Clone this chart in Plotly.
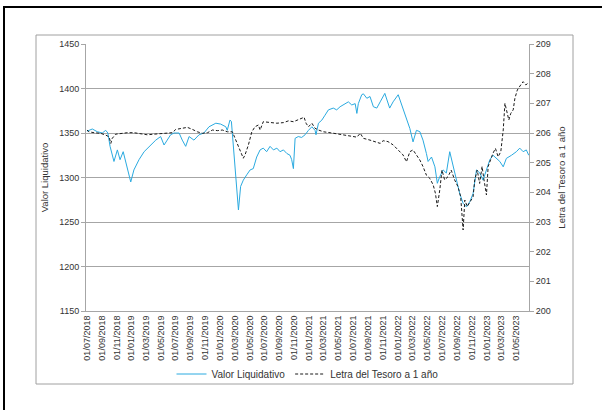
import plotly.graph_objects as go

# ---- data ----
vl_dates = ["2018-07-02","2018-07-24","2018-08-13","2018-09-03","2018-09-17","2018-09-26","2018-10-05",
    "2018-10-21","2018-11-04","2018-11-15","2018-11-28","2018-12-12","2018-12-22","2018-12-29","2019-01-11",
    "2019-02-01","2019-02-22","2019-03-21","2019-04-11","2019-05-01","2019-05-15","2019-05-28","2019-06-11",
    "2019-06-25","2019-07-16","2019-07-29","2019-08-12","2019-08-26","2019-09-15","2019-10-06","2019-10-26",
    "2019-11-16","2019-12-14","2020-01-03","2020-01-24","2020-01-30","2020-02-10","2020-02-16","2020-02-24",
    "2020-03-06","2020-03-16","2020-03-25","2020-04-05","2020-04-19","2020-05-03","2020-05-16","2020-05-30",
    "2020-06-13","2020-06-26","2020-07-10","2020-07-24","2020-08-07","2020-08-21","2020-09-03","2020-09-17",
    "2020-10-01","2020-10-14","2020-10-21","2020-10-28","2020-11-04","2020-11-17","2020-12-01","2020-12-15",
    "2020-12-29","2021-01-12","2021-01-25","2021-01-29","2021-02-08","2021-02-22","2021-03-07","2021-03-21",
    "2021-04-10","2021-04-24","2021-05-08","2021-05-29","2021-06-11","2021-06-25","2021-07-09","2021-07-16",
    "2021-07-22","2021-08-05","2021-08-12","2021-08-26","2021-09-08","2021-09-22","2021-10-06","2021-10-20",
    "2021-11-08","2021-11-28","2021-12-12","2022-01-02","2022-01-15","2022-02-05","2022-02-19","2022-03-04",
    "2022-03-18","2022-04-01","2022-04-14","2022-04-28","2022-05-05","2022-05-19","2022-06-02","2022-06-12",
    "2022-06-22","2022-07-06","2022-07-19","2022-08-02","2022-08-16","2022-08-29","2022-09-12","2022-09-26",
    "2022-10-10","2022-10-24","2022-11-06","2022-11-20","2022-12-04","2022-12-17","2022-12-31","2023-01-14",
    "2023-01-27","2023-02-10","2023-02-24","2023-03-10","2023-03-23","2023-04-13","2023-05-03","2023-05-17",
    "2023-05-31","2023-06-13","2023-06-23"]
vl_values = [1352,1354.5,1351.5,1350,1353,1350,1335,
    1318,1331,1320,1329,1312,1301,1295,1308.5,
    1320,1329,1336.5,1342,1346,1336.5,1342,1348,
    1350,1350,1342,1335,1346,1342,1348,1350,
    1357,1361,1360,1357,1353,1364.5,1363,1335,
    1297,1263.5,1290,1297,1303,1308.5,1310,1323,
    1331,1333,1329,1335,1331,1333,1329,1331,
    1327,1325,1320,1310,1344,1346,1345,1348,
    1353,1357,1353,1348,1361,1364.5,1370,1376,
    1378,1376,1379.5,1383,1385,1381.5,1383,1372,
    1383,1393,1394,1389,1391,1379.5,1378,1385,
    1394.5,1378,1385,1393,1383,1368,1355,1340,
    1353,1351.5,1342,1327,1318,1323,1312,1293.5,
    1301,1308.5,1305,1329,1312,1297,1282,1271,
    1267,1273,1282,1308.5,1305,1297,1308.5,1320,
    1325,1321.5,1318,1312,1321.5,1325,1329,1333,
    1329,1331,1325]

lt_dates = ["2018-07-02","2018-07-10","2018-07-31","2018-08-27","2018-09-17","2018-10-01","2018-10-08",
    "2018-10-14","2018-10-28","2018-11-18","2018-12-16","2019-01-11","2019-02-08","2019-03-07","2019-04-03",
    "2019-05-01","2019-05-28","2019-06-18","2019-07-02","2019-07-22","2019-08-19","2019-09-09","2019-09-29",
    "2019-10-20","2019-11-10","2019-11-30","2019-12-21","2020-01-10","2020-01-30","2020-02-20","2020-03-08",
    "2020-03-22","2020-04-05","2020-04-12","2020-04-26","2020-05-10","2020-05-23","2020-06-06","2020-06-13",
    "2020-06-26","2020-07-24","2020-08-21","2020-09-17","2020-10-08","2020-10-28","2020-11-17","2020-12-01",
    "2020-12-11","2020-12-19","2020-12-29","2021-01-12","2021-01-25","2021-02-08","2021-03-01","2021-03-28",
    "2021-04-24","2021-05-22","2021-06-18","2021-07-16","2021-07-30","2021-08-12","2021-09-08","2021-10-06",
    "2021-10-20","2021-11-01","2021-11-21","2021-12-12","2022-01-02","2022-01-22","2022-02-05","2022-02-19",
    "2022-03-04","2022-03-18","2022-04-01","2022-04-14","2022-04-28","2022-05-12","2022-05-26","2022-06-04",
    "2022-06-12","2022-06-22","2022-07-01","2022-07-12","2022-07-26","2022-08-08","2022-08-22","2022-09-05",
    "2022-09-16","2022-09-26","2022-10-03","2022-10-13","2022-10-27","2022-11-06","2022-11-13","2022-11-23",
    "2022-12-03","2022-12-13","2022-12-21","2022-12-31","2023-01-07","2023-01-18","2023-01-27","2023-02-06",
    "2023-02-17","2023-02-28","2023-03-10","2023-03-17","2023-03-23","2023-04-02","2023-04-10","2023-04-20",
    "2023-04-27","2023-05-07","2023-05-21","2023-05-31","2023-06-11","2023-06-20"]
lt_values = [206.1,206.04,206.01,205.99,205.93,205.87,205.65,
    205.82,205.96,205.99,206.01,206.01,205.97,205.94,205.96,
    205.97,205.99,206.01,206.12,206.15,206.19,206.12,206.04,
    205.99,206.01,206.1,206.08,206.1,206.04,206.04,205.71,
    205.48,205.15,205.26,205.6,206.04,206.21,206.27,206.1,
    206.38,206.35,206.33,206.35,206.41,206.38,206.46,206.5,
    206.53,206.33,206.21,206.33,206.16,206.1,206.04,206.01,
    205.97,205.93,205.9,205.86,205.99,205.82,205.76,205.67,
    205.65,205.74,205.71,205.6,205.43,205.26,205.03,205.37,
    205.43,205.26,205.09,204.87,204.58,204.47,204.25,203.97,
    203.52,204.08,204.75,204.42,204.53,204.75,204.42,204.19,
    203.85,202.73,203.74,203.52,203.69,203.85,204.42,204.75,
    204.3,204.87,204.42,203.91,204.87,205.15,205.32,205.48,
    205.2,205.37,206.1,207.0,206.78,206.44,206.66,206.78,
    207.17,207.45,207.62,207.73,207.62,207.68]

tick_dates = ["2018-07-01","2018-09-01","2018-11-01","2019-01-01","2019-03-01","2019-05-01",
    "2019-07-01","2019-09-01","2019-11-01","2020-01-01","2020-03-01","2020-05-01",
    "2020-07-01","2020-09-01","2020-11-01","2021-01-01","2021-03-01","2021-05-01",
    "2021-07-01","2021-09-01","2021-11-01","2022-01-01","2022-03-01","2022-05-01",
    "2022-07-01","2022-09-01","2022-11-01","2023-01-01","2023-03-01","2023-05-01"]
tick_labels = ["01/07/2018","01/09/2018","01/11/2018","01/01/2019","01/03/2019","01/05/2019",
    "01/07/2019","01/09/2019","01/11/2019","01/01/2020","01/03/2020","01/05/2020",
    "01/07/2020","01/09/2020","01/11/2020","01/01/2021","01/03/2021","01/05/2021",
    "01/07/2021","01/09/2021","01/11/2021","01/01/2022","01/03/2022","01/05/2022",
    "01/07/2022","01/09/2022","01/11/2022","01/01/2023","01/03/2023","01/05/2023"]

W, H = 602, 410
L, R, T, B = 86, 529, 44, 311
pw, ph = R - L, B - T

def px(x):
    return (x - L) / pw

def py(y):
    return (B - y) / ph

FONT = "Liberation Sans, Arial, sans-serif"
GRID = "#A6A6A6"
TXT = "#333333"

fig = go.Figure()
fig.add_trace(go.Scatter(x=vl_dates, y=vl_values, name="Valor Liquidativo", mode="lines",
                         line=dict(color="#2AAAE0", width=1)))
fig.add_trace(go.Scatter(x=lt_dates, y=lt_values, name="Letra del Tesoro a 1 año", mode="lines",
                         yaxis="y2", line=dict(color="#1A1A1A", width=1, dash="3px,2px")))

fig.update_layout(
    width=W, height=H,
    margin=dict(l=L, r=W - R, t=T, b=H - B),
    paper_bgcolor="white", plot_bgcolor="white",
    font=dict(family=FONT, size=9, color=TXT),
    showlegend=True,
    legend=dict(orientation="h", x=0.5, xanchor="center", y=py(374), yanchor="middle",
                font=dict(size=10, color=TXT), bgcolor="rgba(0,0,0,0)",
                itemwidth=30, tracegroupgap=0),
    xaxis=dict(type="date", range=["2018-06-28", "2023-06-24"],
               tickvals=tick_dates, ticktext=tick_labels, tickangle=-90,
               showgrid=False, showline=True, linecolor=GRID, linewidth=1,
               ticks="", zeroline=False, tickfont=dict(size=9, color=TXT)),
    yaxis=dict(range=[1150, 1450], dtick=50, showgrid=True, gridcolor=GRID, gridwidth=1,
               showline=True, linecolor=GRID, ticks="outside", ticklen=4, tickcolor=GRID,
               zeroline=False, tickfont=dict(size=9, color=TXT),
               title=dict(text="Valor Liquidativo", font=dict(size=9.5, color=TXT), standoff=8)),
    yaxis2=dict(range=[200, 209], dtick=1, overlaying="y", side="right", showgrid=False,
                showline=True, linecolor=GRID, ticks="outside", ticklen=4, tickcolor=GRID,
                zeroline=False, tickfont=dict(size=9, color=TXT),
                title=dict(text="Letra del Tesoro a 1 año", font=dict(size=9.5, color=TXT), standoff=8)),
    shapes=[
        dict(type="rect", xref="paper", yref="paper", x0=px(36), x1=px(573), y0=py(384), y1=py(35),
             line=dict(color="#A0A0A0", width=1), layer="below"),
        dict(type="rect", xref="paper", yref="paper", x0=px(4), x1=px(610), y0=py(420), y1=py(7),
             line=dict(color="#000000", width=2), layer="below"),
    ],
)

fig.write_html("out.html")
